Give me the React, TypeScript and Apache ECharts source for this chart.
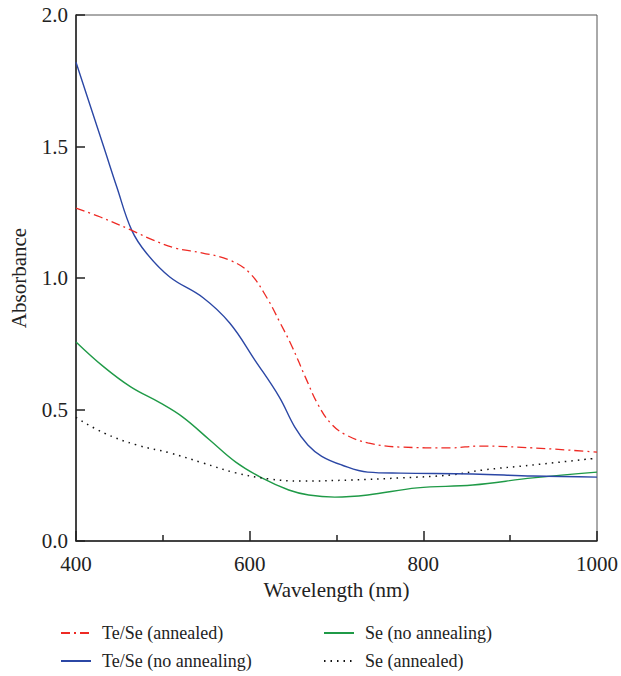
import React, { useEffect, useRef } from "react";
import * as echarts from "echarts";

const xTicks = [400, 600, 800, 1000];
const yTicks = [0, 0.5, 1.0, 1.5, 2.0];

const tsAnnealedX = [400, 428, 463, 489, 515, 546, 577, 600, 620, 635, 649, 664, 679, 694, 710, 736, 774, 831, 865, 926, 1000];
const tsAnnealedY = [1.266, 1.232, 1.183, 1.144, 1.113, 1.095, 1.068, 1.019, 0.924, 0.83, 0.738, 0.624, 0.517, 0.445, 0.405, 0.373, 0.357, 0.354, 0.361, 0.354, 0.338];

const tsNoAnnX = [400, 418, 432, 447, 464, 481, 508, 546, 577, 606, 634, 652, 667, 683, 706, 736, 774, 857, 926, 1000];
const tsNoAnnY = [1.82, 1.639, 1.498, 1.346, 1.183, 1.095, 1.004, 0.926, 0.829, 0.688, 0.548, 0.433, 0.365, 0.322, 0.289, 0.262, 0.258, 0.255, 0.247, 0.243];

const seNoAnnX = [400, 432, 463, 497, 523, 554, 584, 614, 645, 668, 698, 736, 793, 857, 926, 1000];
const seNoAnnY = [0.757, 0.662, 0.586, 0.525, 0.471, 0.384, 0.3, 0.24, 0.194, 0.175, 0.167, 0.175, 0.202, 0.213, 0.24, 0.262];

const seAnnealedX = [400, 432, 470, 508, 546, 584, 622, 660, 717, 774, 831, 869, 926, 1000];
const seAnnealedY = [0.47, 0.411, 0.365, 0.335, 0.297, 0.259, 0.236, 0.228, 0.232, 0.24, 0.251, 0.27, 0.289, 0.315];

const names = ["Te/Se (annealed)", "Te/Se (no annealing)", "Se (no annealing)", "Se (annealed)"];

const pairs = (xs: number[], ys: number[]) => xs.map((x, i) => [x, ys[i]]);

const FONT = "serif";

export default function App() {
  const ref = useRef<HTMLDivElement>(null);
  useEffect(() => {
    if (!ref.current) return;
    const chart = echarts.init(ref.current, null, { renderer: "svg" });
    const legTxt = { fontFamily: FONT, fontSize: 18, color: "#222", padding: [0, 0, 0, 6] };
    const axTxt = { fontFamily: FONT, fontSize: 21, color: "#222" };
    const leg = (name: string, left: number, top: number) => ({
      data: [name],
      orient: "horizontal",
      left,
      top,
      itemWidth: 30,
      itemHeight: 10,
      itemGap: 0,
      padding: 0,
      textStyle: legTxt,
      itemStyle: { opacity: 0 },
    });
    chart.setOption({
      animation: false,
      backgroundColor: "#fff",
      textStyle: { fontFamily: FONT },
      grid: { left: 72, top: 15, right: 23, bottom: 135, show: true, borderColor: "#555", borderWidth: 1 },
      legend: [
        leg(names[0], 60, 624),
        leg(names[1], 60, 652),
        leg(names[2], 323, 624),
        leg(names[3], 323, 652),
      ],
      xAxis: {
        type: "value",
        min: 400,
        max: 1000,
        interval: 200,
        name: "Wavelength (nm)",
        nameLocation: "middle",
        nameGap: 38,
        nameTextStyle: axTxt,
        axisLine: { lineStyle: { color: "#222", width: 1.5 } },
        axisTick: { inside: true, length: 10, lineStyle: { color: "#222", width: 1.5 } },
        minorTick: { show: true, splitNumber: 2, length: 6, lineStyle: { color: "#222", width: 1.5 } },
        splitLine: { show: false },
        axisLabel: {
          ...axTxt,
          margin: 12,
          formatter: (v: number) => (xTicks.includes(v) ? String(v) : ""),
        },
      },
      yAxis: {
        type: "value",
        min: 0,
        max: 2,
        interval: 0.5,
        name: "Absorbance",
        nameLocation: "middle",
        nameGap: 47,
        nameTextStyle: axTxt,
        axisLine: { lineStyle: { color: "#222", width: 1.5 } },
        axisTick: { inside: true, length: 9, lineStyle: { color: "#222", width: 1.5 } },
        splitLine: { show: false },
        axisLabel: {
          ...axTxt,
          margin: 8,
          formatter: (v: number) => (yTicks.includes(v) ? v.toFixed(1) : ""),
        },
      },
      series: [
        {
          name: names[0],
          type: "line",
          smooth: 0.4,
          symbol: "none",
          data: pairs(tsAnnealedX, tsAnnealedY),
          itemStyle: { color: "#ee2a24" },
          lineStyle: { color: "#ee2a24", width: 1.3, type: [9, 4, 2, 4] },
          z: 4,
        },
        {
          name: names[1],
          type: "line",
          smooth: 0.4,
          symbol: "none",
          data: pairs(tsNoAnnX, tsNoAnnY),
          itemStyle: { color: "#2b47a5" },
          lineStyle: { color: "#2b47a5", width: 1.4 },
          z: 3,
        },
        {
          name: names[2],
          type: "line",
          smooth: 0.4,
          symbol: "none",
          data: pairs(seNoAnnX, seNoAnnY),
          itemStyle: { color: "#1f9a47" },
          lineStyle: { color: "#1f9a47", width: 1.4 },
          z: 2,
        },
        {
          name: names[3],
          type: "line",
          smooth: 0.4,
          symbol: "none",
          data: pairs(seAnnealedX, seAnnealedY),
          itemStyle: { color: "#111" },
          lineStyle: { color: "#111", width: 1.5, type: [1.5, 5] },
          z: 2,
        },
      ],
    });
    return () => chart.dispose();
  }, []);
  return <div ref={ref} style={{ width: 621, height: 676, position: "absolute", left: 0, top: 0 }} />;
}
